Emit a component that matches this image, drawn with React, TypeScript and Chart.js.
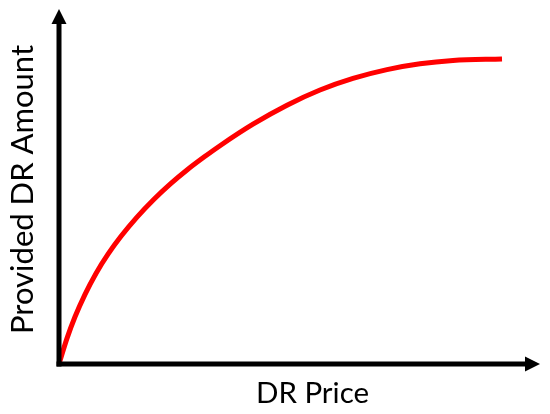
import React, { useEffect, useRef } from "react";
import { Chart, registerables } from "chart.js";

Chart.register(...registerables);

// Curve (price on x, provided amount on y, both 0..100 of the axis length)
const priceValues = [0, 1.66, 3.33, 5.41, 7.69, 10.19, 12.89, 16.22, 19.75, 23.28, 26.61, 30.15, 33.47, 40.33, 47.4, 54.26, 61.12, 68.19, 75.05, 81.91, 92.1];
const amountValues = [0, 7.21, 13.3, 19.63, 25.52, 30.93, 35.97, 41.38, 46.41, 50.87, 54.65, 58.28, 61.49, 67.55, 72.9, 77.18, 80.45, 82.93, 84.56, 85.49, 85.92];
const xTitle = "DR Price";
const yTitle = "Provided DR Amount";

const FONT = "Lato, 'Open Sans', 'Noto Sans', sans-serif";

const arrowAxes = {
  id: "arrowAxes",
  afterDatasetsDraw(chart: any) {
    const { ctx, chartArea } = chart;
    const { left, right, top, bottom } = chartArea;
    const lw = 5;
    const head = 15;
    const half = 7.5;
    ctx.save();
    ctx.fillStyle = "#000";
    ctx.strokeStyle = "#000";
    ctx.lineWidth = lw;
    ctx.lineCap = "butt";
    // y axis
    ctx.beginPath();
    ctx.moveTo(left, bottom + lw / 2);
    ctx.lineTo(left, top + head - 1);
    ctx.stroke();
    ctx.beginPath();
    ctx.moveTo(left, top);
    ctx.lineTo(left - half, top + head);
    ctx.lineTo(left + half, top + head);
    ctx.closePath();
    ctx.fill();
    // x axis
    ctx.beginPath();
    ctx.moveTo(left - lw / 2, bottom);
    ctx.lineTo(right - head + 1, bottom);
    ctx.stroke();
    ctx.beginPath();
    ctx.moveTo(right, bottom);
    ctx.lineTo(right - head, bottom - half);
    ctx.lineTo(right - head, bottom + half);
    ctx.closePath();
    ctx.fill();

    // axis titles
    ctx.fillStyle = "#000";
    ctx.textAlign = "center";
    ctx.textBaseline = "alphabetic";
    ctx.font = `29.5px ${FONT}`;
    ctx.fillText(xTitle, (left + right) / 2 + 13, bottom + 39.3);
    ctx.save();
    ctx.translate(left - 26, (top + bottom) / 2 + 3);
    ctx.rotate(-Math.PI / 2);
    ctx.font = `31px ${FONT}`;
    ctx.fillText(yTitle, 0, 0);
    ctx.restore();
    ctx.restore();
  },
};

export default function App() {
  const ref = useRef<HTMLCanvasElement | null>(null);

  useEffect(() => {
    if (!ref.current) return;
    const chart = new Chart(ref.current, {
      type: "line",
      data: {
        datasets: [
          {
            label: yTitle,
            data: priceValues.map((x, i) => ({ x, y: amountValues[i] })),
            borderColor: "#ff0000",
            borderWidth: 5,
            pointRadius: 0,
            fill: false,
            cubicInterpolationMode: "monotone",
            borderCapStyle: "butt",
          },
        ],
      },
      options: {
        animation: false,
        responsive: false,
        maintainAspectRatio: false,
        layout: { padding: { left: 59, right: 10, top: 9, bottom: 50 } },
        plugins: { legend: { display: false }, tooltip: { enabled: false } },
        scales: {
          x: { type: "linear", min: 0, max: 100, display: false },
          y: { type: "linear", min: 0, max: 100, display: false },
        },
      },
      plugins: [arrowAxes],
    } as any);
    return () => chart.destroy();
  }, []);

  return (
    <div style={{ position: "fixed", left: 0, top: 0, width: 550, height: 414, background: "#fff" }}>
      <canvas ref={ref} width={550} height={414} style={{ display: "block" }} />
    </div>
  );
}
